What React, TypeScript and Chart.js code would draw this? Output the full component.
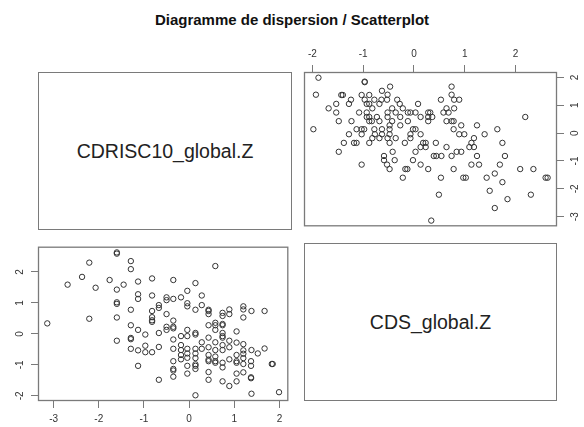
import React, { useEffect, useRef } from "react";
import { Chart, registerables } from "chart.js";
Chart.register(...registerables);

const TITLE = "Diagramme de dispersion / Scatterplot";
const VAR_NAMES = ["CDRISC10_global.Z", "CDS_global.Z"];

// CDS_global.Z values (one per respondent)
const CDS_GLOBAL_Z = [
  -1.88, -0.97, -0.97, -0.47, 0.74, -1.93, -1.43, -1.40, -1.03, -0.63,
  -0.52, -0.88, -1.24, -0.97, -0.78, -0.64, -0.53, -0.33, 0.53, 0.74,
  0.79, 0.89, -1.53, -1.28, -0.93, -0.88, -0.68, -0.28, 0.08, -1.68,
  -0.82, -0.43, -0.22, 0.64, 0.79, -1.53, -1.08, -0.93, -0.52, -0.36,
  -0.12, -0.07, 0.03, 0.28, 0.32, 0.58, 0.68, -0.93, -0.88, -0.73,
  -0.52, -0.27, 0.13, 0.36, 0.28, 2.19, -1.48, -1.23, -0.88, -0.83,
  -0.68, -0.43, -0.12, 0.28, 0.64, 0.74, 0.78, -0.48, -0.27, 0.93,
  1.24, -1.98, -1.13, -1.03, -0.98, -0.78, -0.63, -0.48, -0.02, 0.03,
  0.78, 1.64, -1.28, -1.03, -0.77, -0.63, -0.48, -0.07, 0.13, 0.89,
  0.99, 1.39, -0.82, -0.68, -0.52, -0.36, -0.07, 1.18, -1.38, -1.18,
  -1.13, -0.88, -0.48, -0.18, 0.18, 0.23, 0.43, 1.13, 1.74, 0.13,
  0.23, 0.64, 1.09, 1.18, -1.48, -0.42, 0.03, 0.84, 0.93, -0.59,
  0.39, 0.44, 0.54, 0.74, 1.24, 1.79, -0.59, -0.38, -0.02, -0.53,
  -1.03, 0.13, 1.13, 1.28, 1.69, -0.48, -0.17, -0.13, 0.28, 0.78,
  2.09, 2.35, 1.59, -0.22, 0.53, 0.97, 1.02, 1.43, 2.59, 2.63,
  1.74, 1.49, 0.49, 2.30, 1.84, 1.59, 0.34,
];

// CDRISC10_global.Z values (same respondents, same order)
const CDRISC10_GLOBAL_Z = [
  1.99, 1.83, 1.85, 1.67, 1.67, 1.38, 1.37, 1.37, 1.37, 1.52,
  1.38, 1.37, 1.20, 1.20, 1.20, 1.20, 1.20, 1.20, 1.20, 1.38,
  1.20, 1.20, 1.05, 1.05, 1.05, 1.05, 1.05, 1.05, 1.05, 0.89,
  0.89, 0.89, 0.89, 0.89, 0.89, 0.74, 0.74, 0.74, 0.74, 0.74,
  0.74, 0.74, 0.74, 0.74, 0.74, 0.74, 0.74, 0.58, 0.58, 0.58,
  0.58, 0.58, 0.58, 0.58, 0.58, 0.58, 0.43, 0.43, 0.43, 0.43,
  0.43, 0.43, 0.43, 0.43, 0.43, 0.43, 0.43, 0.28, 0.28, 0.28,
  0.28, 0.14, 0.14, 0.14, 0.14, 0.14, 0.14, 0.14, 0.14, 0.14,
  0.14, 0.14, -0.04, -0.04, -0.04, -0.04, -0.04, -0.04, -0.04, -0.04,
  -0.04, -0.04, -0.18, -0.18, -0.18, -0.18, -0.18, -0.18, -0.35, -0.35,
  -0.35, -0.35, -0.35, -0.35, -0.35, -0.35, -0.35, -0.35, -0.35, -0.50,
  -0.50, -0.50, -0.50, -0.50, -0.67, -0.67, -0.67, -0.67, -0.67, -0.82,
  -0.82, -0.82, -0.82, -0.82, -0.82, -0.82, -0.97, -0.97, -0.97, -1.13,
  -1.13, -1.13, -1.13, -1.13, -1.13, -1.29, -1.29, -1.29, -1.29, -1.29,
  -1.29, -1.29, -1.45, -1.60, -1.60, -1.60, -1.60, -1.60, -1.60, -1.60,
  -1.76, -2.07, -2.21, -2.21, -2.37, -2.69, -3.14,
];

const CDS_TICKS = [-2, -1, 0, 1, 2];
const CDRISC_TICKS = [-3, -2, -1, 0, 1, 2];

const FONT = '"Liberation Sans", Arial, Helvetica, sans-serif';

function rRange(v: number[]): [number, number] {
  const lo = Math.min(...v);
  const hi = Math.max(...v);
  const e = (hi - lo) * 0.04;
  return [lo - e, hi + e];
}

type PanelProps = {
  xs: number[];
  ys: number[];
  xTicks: number[];
  yTicks: number[];
  xPos: "top" | "bottom";
  yPos: "left" | "right";
  left: number;
  top: number;
  width: number;
  height: number;
  xAxisSize: number;
  yAxisSize: number;
  padLeft: number;
  yLabelX: number;
};

function ScatterPanel(p: PanelProps) {
  const ref = useRef<HTMLCanvasElement | null>(null);
  useEffect(() => {
    if (!ref.current) return;
    const [xmin, xmax] = rRange(p.xs);
    const [ymin, ymax] = rRange(p.ys);
    const data = p.xs.map((x, i) => ({ x, y: p.ys[i] }));
    const framePlugin = {
      id: "frameAndYLabels",
      afterDraw(chart: any) {
        const { ctx, chartArea: a } = chart;
        ctx.save();
        ctx.strokeStyle = "#7a7a7a";
        ctx.lineWidth = 1.3;
        ctx.strokeRect(a.left + 0.5, a.top + 0.5, a.right - a.left - 1, a.bottom - a.top - 1);
        const ys = chart.scales.y;
        ctx.fillStyle = "#333";
        ctx.font = `10px ${FONT}`;
        ctx.textAlign = "center";
        ctx.textBaseline = "middle";
        ys.ticks.forEach((t: any) => {
          const py = ys.getPixelForValue(t.value);
          ctx.save();
          ctx.translate(p.yLabelX, py);
          ctx.rotate(-Math.PI / 2);
          ctx.fillText(String(t.value), 0, 0);
          ctx.restore();
        });
        ctx.restore();
      },
    };
    const chart = new Chart(ref.current, {
      type: "scatter",
      data: {
        datasets: [
          {
            data,
            pointRadius: 2.7,
            pointHoverRadius: 2.7,
            pointBorderWidth: 1,
            pointBorderColor: "#333",
            pointBackgroundColor: "rgba(0,0,0,0)",
          },
        ],
      },
      options: {
        animation: false,
        responsive: false,
        maintainAspectRatio: false,
        events: [],
        layout: { padding: { left: p.padLeft, top: 0, right: 0, bottom: 0 } },
        plugins: { legend: { display: false }, tooltip: { enabled: false } },
        scales: {
          x: {
            type: "linear",
            position: p.xPos,
            min: xmin,
            max: xmax,
            afterBuildTicks: (s: any) => {
              s.ticks = p.xTicks.map((v) => ({ value: v }));
            },
            afterFit: (s: any) => {
              s.height = p.xAxisSize;
            },
            grid: { drawOnChartArea: false, drawTicks: true, tickLength: 7, color: "#7a7a7a", lineWidth: 1 },
            border: { display: false },
            ticks: {
              font: { family: FONT, size: 10 },
              color: "#333",
              padding: 5,
              maxRotation: 0,
              minRotation: 0,
              callback: (v: any) => String(v),
            },
          },
          y: {
            type: "linear",
            position: p.yPos,
            min: ymin,
            max: ymax,
            afterBuildTicks: (s: any) => {
              s.ticks = p.yTicks.map((v) => ({ value: v }));
            },
            afterFit: (s: any) => {
              s.width = p.yAxisSize;
            },
            grid: { drawOnChartArea: false, drawTicks: true, tickLength: 7, color: "#7a7a7a", lineWidth: 1 },
            border: { display: false },
            ticks: { display: false },
          },
        },
      },
      plugins: [framePlugin],
    } as any);
    return () => chart.destroy();
  }, []);
  return (
    <canvas
      ref={ref}
      width={p.width}
      height={p.height}
      style={{ position: "absolute", left: p.left, top: p.top, width: p.width, height: p.height }}
    />
  );
}

function LabelPanel({ text, left, top, width, height }: { text: string; left: number; top: number; width: number; height: number }) {
  return (
    <div
      style={{
        position: "absolute",
        left,
        top,
        width,
        height,
        boxSizing: "border-box",
        border: "1px solid #7a7a7a",
        display: "flex",
        alignItems: "center",
        justifyContent: "center",
        fontFamily: FONT,
        fontSize: 19.5,
        color: "#222",
      }}
    >
      {text}
    </div>
  );
}

export default function App() {
  return (
    <div style={{ position: "fixed", left: 0, top: 0, width: 584, height: 427, background: "#fff", overflow: "hidden" }}>
      <div
        style={{
          position: "absolute",
          left: 0,
          top: 11,
          width: 584,
          height: 18,
          lineHeight: "18px",
          textAlign: "center",
          fontFamily: FONT,
          fontWeight: "bold",
          fontSize: 15,
          color: "#111",
        }}
      >
        {TITLE}
      </div>
      <LabelPanel text={VAR_NAMES[0]} left={38} top={72} width={254} height={158} />
      <ScatterPanel
        xs={CDS_GLOBAL_Z}
        ys={CDRISC10_GLOBAL_Z}
        xTicks={CDS_TICKS}
        yTicks={CDRISC_TICKS}
        xPos="top"
        yPos="right"
        left={290}
        top={40}
        width={294}
        height={190}
        xAxisSize={32}
        yAxisSize={27}
        padLeft={14}
        yLabelX={285}
      />
      <ScatterPanel
        xs={CDRISC10_GLOBAL_Z}
        ys={CDS_GLOBAL_Z}
        xTicks={CDRISC_TICKS}
        yTicks={CDS_TICKS}
        xPos="bottom"
        yPos="left"
        left={0}
        top={243}
        width={292}
        height={184}
        xAxisSize={26}
        yAxisSize={38}
        padLeft={0}
        yLabelX={20}
      />
      <LabelPanel text={VAR_NAMES[1]} left={304} top={243} width={253} height={158} />
    </div>
  );
}
